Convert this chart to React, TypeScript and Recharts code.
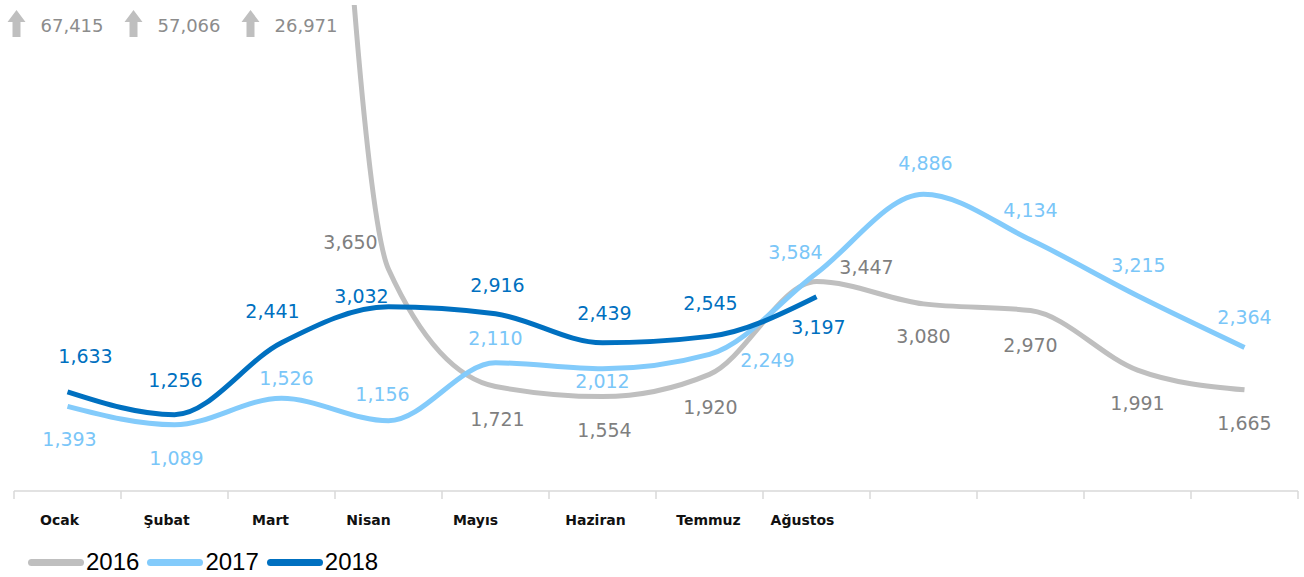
import { LineChart, Line, XAxis, YAxis, LabelList } from "recharts";

const months = ["Ocak", "Şubat", "Mart", "Nisan", "Mayıs", "Haziran", "Temmuz", "Ağustos", "Eylül", "Ekim", "Kasım", "Aralık"];
const tickLabels = ["Ocak", "Şubat", "Mart", "Nisan", "Mayıs", "Haziran", "Temmuz", "Ağustos", "", "", "", ""];
const values2016 = [67415, 57066, 26971, 3650, 1721, 1554, 1920, 3447, 3080, 2970, 1991, 1665];
const values2017 = [1393, 1089, 1526, 1156, 2110, 2012, 2249, 3584, 4886, 4134, 3215, 2364];
const values2018 = [1633, 1256, 2441, 3032, 2916, 2439, 2545, 3197, null, null, null, null];
const yMax = 8000;

// label offsets (dx, dy) from each point
const off2016 = [[0, 0], [0, 0], [0, 0], [-38, -27], [2, 33], [2, 33], [1, 33], [50, -15], [0, 32], [0, 34], [0, 33], [0, 33]];
const off2017 = [[2, 33], [2, 33], [5, -20], [-6, -27], [0, -25], [0, 12], [58, 6], [-21, -21], [2, -31], [0, -30], [1, -31], [0, -30]];
const off2018 = [[18, -36], [1, -35], [-9, -32], [-27, -11], [2, -29], [2, -30], [1, -33], [2, 30]];
// axis label shifts
const tickDx = [-8, -8, -11, -20, -20, -7, -1, -14, 0, 0, 0, 0];

const data = months.map((m, i) => ({
  month: m,
  y2016: values2016[i],
  y2017: values2017[i],
  y2018: values2018[i],
}));

const W = 1304;
const H = 577;
const margin = { top: 5, right: 6, left: 14, bottom: 56 };
const band = (W - margin.left - margin.right) / months.length;
const fmt = (v: number) => v.toLocaleString("en-US");
const labelFont = "'DejaVu Sans', Verdana, sans-serif";

function makeLabel(offsets: number[][], color: string) {
  return (props: any) => {
    const { x, y, value, index } = props;
    if (value == null) return null;
    if (value > yMax) {
      // off-scale value: arrow + number at the top
      const ax = x - 51 + index * 10;
      return (
        <g key={`ov-${index}`}>
          <path
            d={`M${ax} ${10} L${ax + 9} ${22} L${ax + 4} ${22} L${ax + 4} ${37} L${ax - 4} ${37} L${ax - 4} ${22} L${ax - 9} ${22} Z`}
            fill="#bfbfbf"
          />
          <text x={ax + 24} y={25} dominantBaseline="central" fontFamily={labelFont} fontSize={18} fill="#8c8c8c">
            {fmt(value)}
          </text>
        </g>
      );
    }
    const [dx, dy] = offsets[index] || [0, 0];
    return (
      <text
        key={`l-${index}`}
        x={x + dx}
        y={y + dy}
        textAnchor="middle"
        dominantBaseline="central"
        fontFamily={labelFont}
        fontSize={19}
        fill={color}
      >
        {fmt(value)}
      </text>
    );
  };
}

function BoundaryTick(props: any) {
  const { x, y, payload, index } = props;
  const last = index === months.length - 1;
  return (
    <g>
      <line x1={x - band / 2} y1={y - 8} x2={x - band / 2} y2={y} stroke="#d9d9d9" strokeWidth={1.5} />
      {last && <line x1={x + band / 2} y1={y - 8} x2={x + band / 2} y2={y} stroke="#d9d9d9" strokeWidth={1.5} />}
      <text
        x={x + (tickDx[index] ?? 0)}
        y={y + 26}
        textAnchor="middle"
        fontFamily="'DejaVu Sans', sans-serif"
        fontWeight="bold"
        fontSize={14}
        fill="#111"
      >
        {tickLabels[index] ?? payload.value}
      </text>
    </g>
  );
}

const legendItems = [
  { name: "2016", color: "#bfbfbf" },
  { name: "2017", color: "#83cbfb" },
  { name: "2018", color: "#0070c0" },
];

export default function App() {
  return (
    <div style={{ position: "absolute", left: 0, top: 0, width: W, height: H, background: "#fff" }}>
      <LineChart width={W} height={H} data={data} margin={margin}>
        <XAxis
          dataKey="month"
          interval={0}
          padding={{ left: band / 2, right: band / 2 }}
          axisLine={{ stroke: "#d9d9d9", strokeWidth: 1.5 }}
          tickLine={false}
          tick={<BoundaryTick />}
        />
        <YAxis hide domain={[0, yMax]} allowDataOverflow />
        <Line
          type="monotone"
          dataKey="y2016"
          stroke="#bfbfbf"
          strokeWidth={5}
          dot={false}
          isAnimationActive={false}
        >
          <LabelList dataKey="y2016" content={makeLabel(off2016, "#7f7f7f")} />
        </Line>
        <Line
          type="monotone"
          dataKey="y2017"
          stroke="#83cbfb"
          strokeWidth={5}
          dot={false}
          isAnimationActive={false}
        >
          <LabelList dataKey="y2017" content={makeLabel(off2017, "#7ac6f8")} />
        </Line>
        <Line
          type="monotone"
          dataKey="y2018"
          stroke="#0070c0"
          strokeWidth={5}
          dot={false}
          isAnimationActive={false}
        >
          <LabelList dataKey="y2018" content={makeLabel(off2018, "#0070c0")} />
        </Line>
      </LineChart>
      <div style={{ position: "absolute", left: 28, top: 548, display: "flex", alignItems: "center" }}>
        {legendItems.map((it) => (
          <div key={it.name} style={{ display: "flex", alignItems: "center", marginRight: 8 }}>
            <div style={{ width: 56, height: 7, borderRadius: 4, background: it.color, marginRight: 2 }} />
            <span style={{ fontFamily: "'Liberation Sans', sans-serif", fontSize: 24, color: "#000", lineHeight: "28px" }}>
              {it.name}
            </span>
          </div>
        ))}
      </div>
    </div>
  );
}
